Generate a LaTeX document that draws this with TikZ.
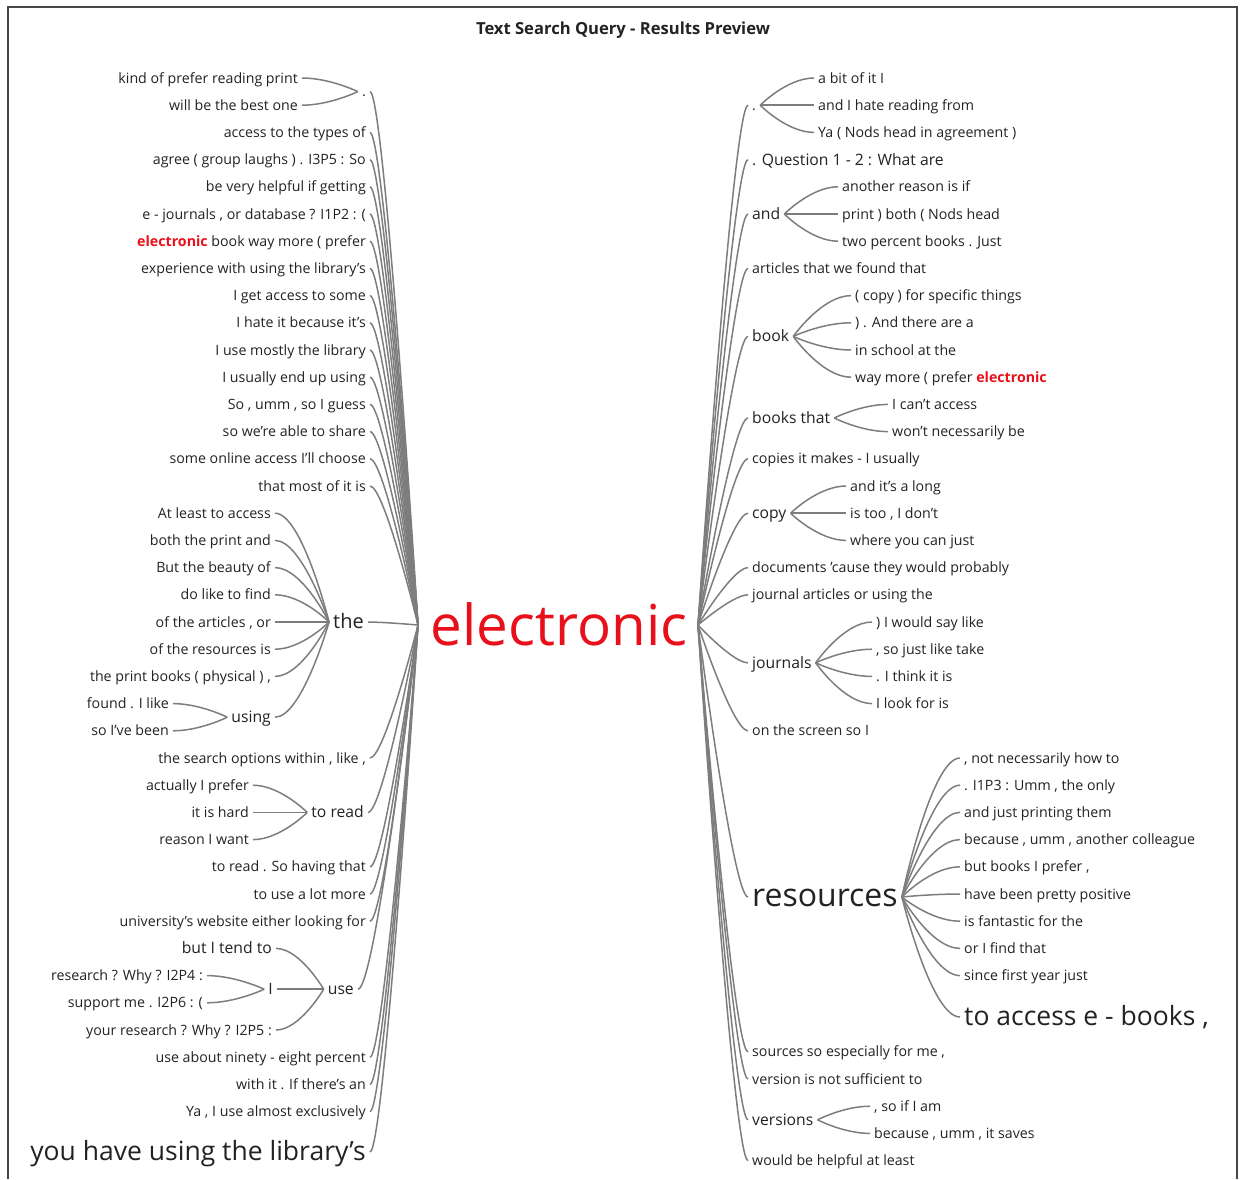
\documentclass[tikz,border=0pt]{standalone}
\usepackage{fontspec}
\setmainfont{Open Sans}
\usetikzlibrary{calc}
\definecolor{txt}{RGB}{34,34,34}
\definecolor{wirec}{RGB}{125,125,125}
\definecolor{hot}{RGB}{232,17,27}
\definecolor{framec}{RGB}{70,70,70}
% parent point first, child point second
\newcommand\wlink[2]{\draw[wire] let \p1=(#1), \p2=(#2) in (\p1) .. controls (\p1) and ({0.3*\x1+0.7*\x2},\y2) .. (\p2);}
\newcommand\flink[2]{\draw[wire] let \p1=(#1), \p2=(#2) in (\p1) .. controls (\p1) and ({0.5*\x1+0.5*\x2},\y2) .. (\p2);}
\newcommand\hotw{\textcolor{hot}{\bfseries electronic}}
\begin{document}
\begin{tikzpicture}[x=1pt,y=-1pt,
  wire/.style={draw=wirec,line width=1.5pt},
  wbase/.style={text=txt,inner xsep=4pt,inner ysep=0pt},
  fs/.style={wbase,font=\fontsize{14.2}{16}\selectfont,text height=13pt,text depth=2.8pt},
  fm/.style={wbase,font=\fontsize{15.7}{18}\selectfont,text height=14.1pt,text depth=3.1pt},
  fl/.style={wbase,font=\fontsize{20}{24}\selectfont,text height=17.3pt,text depth=4pt},
  fx/.style={wbase,font=\fontsize{26.5}{30}\selectfont,text height=22.1pt,text depth=5.3pt},
  fxx/.style={wbase,font=\fontsize{32}{36}\selectfont,text height=26.2pt,text depth=6.4pt},
  le/.style={anchor=east}, ri/.style={anchor=west}
]
\useasboundingbox (0,0) rectangle (1247,1179);
\draw[draw=framec,line width=1.8pt] (8,1179) -- (8,7) -- (1237,7) -- (1237,1179);
\node[text=txt,font=\bfseries\fontsize{16.6}{20}\selectfont] (title) at (623,30) {Text Search Query - Results Preview};

% root
\node[text=hot,inner sep=0pt,font=\fontsize{56.5}{60}\selectfont,text height=41.8pt,text depth=11.3pt] (elec) at (559,630) {electronic};
\coordinate (L) at (418,625);
\coordinate (R) at (698,625);

% ---------------- left side ----------------
\node[fs,le] (ldot) at (370,91.6) {.};
\node[fs,le] (l0) at (302,78) {kind of prefer reading print};
\node[fs,le] (l1) at (302,105.2) {will be the best one};
\node[fs,le] (l2) at (370,132.4) {access to the types of};
\node[fs,le] (l3) at (370,159.6) {agree ( group laughs ) . I3P5 : So};
\node[fs,le] (l4) at (370,186.8) {be very helpful if getting};
\node[fs,le] (l5) at (370,214) {e - journals , or database ? I1P2 : (};
\node[fs,le] (l6) at (370,241.2) {\hotw{} book way more ( prefer};
\node[fs,le] (l7) at (370,268.4) {experience with using the library's};
\node[fs,le] (l8) at (370,295.6) {I get access to some};
\node[fs,le] (l9) at (370,322.8) {I hate it because it's};
\node[fs,le] (l10) at (370,350) {I use mostly the library};
\node[fs,le] (l11) at (370,377.2) {I usually end up using};
\node[fs,le] (l12) at (370,404.4) {So , umm , so I guess};
\node[fs,le] (l13) at (370,431.6) {so we're able to share};
\node[fs,le] (l14) at (370,458.8) {some online access I'll choose};
\node[fs,le] (l15) at (370,486) {that most of it is};
\node[fl,le] (lthe) at (368,622) {the};
\node[fs,le] (l16) at (275,513.2) {At least to access};
\node[fs,le] (l17) at (275,540.4) {both the print and};
\node[fs,le] (l18) at (275,567.6) {But the beauty of};
\node[fs,le] (l19) at (275,594.8) {do like to find};
\node[fs,le] (l20) at (275,622) {of the articles , or};
\node[fs,le] (l21) at (275,649.2) {of the resources is};
\node[fs,le] (l22) at (275,676.4) {the print books ( physical ) ,};
\node[fm,le] (lusing) at (275,717.2) {using};
\node[fs,le] (l23) at (173,703.6) {found . I like};
\node[fs,le] (l24) at (173,730.8) {so I've been};
\node[fs,le] (l25) at (370,758) {the search options within , like ,};
\node[fm,le] (lread) at (368,812.4) {to read};
\node[fs,le] (l26) at (253,785.2) {actually I prefer};
\node[fs,le] (l27) at (253,812.4) {it is hard};
\node[fs,le] (l28) at (253,839.6) {reason I want};
\node[fs,le] (l29) at (370,866.8) {to read . So having that};
\node[fs,le] (l30) at (370,894) {to use a lot more};
\node[fs,le] (l31) at (370,921.2) {university's website either looking for};
\node[fm,le] (luse) at (358,989.2) {use};
\node[fm,le] (l32) at (276,948.4) {but I tend to};
\node[fm,le] (lI) at (277,989.2) {I};
\node[fs,le] (l33) at (207,975.6) {research ? Why ? I2P4 :};
\node[fs,le] (l34) at (207,1002.8) {support me . I2P6 : (};
\node[fs,le] (l35) at (276,1030) {your research ? Why ? I2P5 :};
\node[fs,le] (l36) at (370,1057.2) {use about ninety - eight percent};
\node[fs,le] (l37) at (370,1084.4) {with it . If there's an};
\node[fs,le] (l38) at (370,1111.6) {Ya , I use almost exclusively};
\node[fx,le] (lbig) at (370,1152) {you have using the library's};

\foreach \c in {ldot,l2,l3,l4,l5,l6,l7,l8,l9,l10,l11,l12,l13,l14,l15,lthe,l25,lread,l29,l30,l31,luse,l36,l37,l38,lbig} {\wlink{L}{\c.east}}
\foreach \c in {l0,l1} {\flink{ldot.west}{\c.east}}
\foreach \c in {l16,l17,l18,l19,l20,l21,l22,lusing} {\flink{lthe.west}{\c.east}}
\foreach \c in {l23,l24} {\flink{lusing.west}{\c.east}}
\foreach \c in {l26,l27,l28} {\flink{lread.west}{\c.east}}
\foreach \c in {l32,lI,l35} {\flink{luse.west}{\c.east}}
\foreach \c in {l33,l34} {\flink{lI.west}{\c.east}}

% ---------------- right side ----------------
\node[fs,ri] (rdot) at (748,105.2) {.};
\node[fs,ri] (r0) at (814,78) {a bit of it I};
\node[fs,ri] (r1) at (814,105.2) {and I hate reading from};
\node[fs,ri] (r2) at (814,132.4) {Ya ( Nods head in agreement )};
\node[fm,ri] (r3) at (748,159.6) {. Question 1 - 2 : What are};
\node[fm,ri] (rand) at (748,214) {and};
\node[fs,ri] (r4) at (838,186.8) {another reason is if};
\node[fs,ri] (r5) at (838,214) {print ) both ( Nods head};
\node[fs,ri] (r6) at (838,241.2) {two percent books . Just};
\node[fs,ri] (r7) at (748,268.4) {articles that we found that};
\node[fm,ri] (rbook) at (748,336.4) {book};
\node[fs,ri] (r8) at (851,295.6) {( copy ) for specific things};
\node[fs,ri] (r9) at (851,322.8) {) . And there are a};
\node[fs,ri] (r10) at (851,350) {in school at the};
\node[fs,ri] (r11) at (851,377.2) {way more ( prefer \hotw};
\node[fm,ri] (rbooks) at (748,418) {books that};
\node[fs,ri] (r12) at (888,404.4) {I can't access};
\node[fs,ri] (r13) at (888,431.6) {won't necessarily be};
\node[fs,ri] (r14) at (748,458.8) {copies it makes - I usually};
\node[fm,ri] (rcopy) at (748,513.2) {copy};
\node[fs,ri] (r15) at (846,486) {and it's a long};
\node[fs,ri] (r16) at (846,513.2) {is too , I don't};
\node[fs,ri] (r17) at (846,540.4) {where you can just};
\node[fs,ri] (r18) at (748,567.6) {documents 'cause they would probably};
\node[fs,ri] (r19) at (748,594.8) {journal articles or using the};
\node[fm,ri] (rjour) at (748,662.8) {journals};
\node[fs,ri] (r20) at (872,622) {) I would say like};
\node[fs,ri] (r21) at (872,649.2) {, so just like take};
\node[fs,ri] (r22) at (872,676.4) {. I think it is};
\node[fs,ri] (r23) at (872,703.6) {I look for is};
\node[fs,ri] (r24) at (748,730.8) {on the screen so I};
\node[fxx,ri] (rres) at (748,897) {resources};
\node[fs,ri] (r25) at (960,758) {, not necessarily how to};
\node[fs,ri] (r26) at (960,785.2) {. I1P3 : Umm , the only};
\node[fs,ri] (r27) at (960,812.4) {and just printing them};
\node[fs,ri] (r28) at (960,839.6) {because , umm , another colleague};
\node[fs,ri] (r29) at (960,866.8) {but books I prefer ,};
\node[fs,ri] (r30) at (960,894) {have been pretty positive};
\node[fs,ri] (r31) at (960,921.2) {is fantastic for the};
\node[fs,ri] (r32) at (960,948.4) {or I find that};
\node[fs,ri] (r33) at (960,975.6) {since first year just};
\node[fx,ri] (r34) at (960,1017) {to access e - books ,};
\node[fs,ri] (r35) at (748,1051.8) {sources so especially for me ,};
\node[fs,ri] (r36) at (748,1079) {version is not sufficient to};
\node[fm,ri] (rvers) at (748,1119.8) {versions};
\node[fs,ri] (r37) at (870,1106.2) {, so if I am};
\node[fs,ri] (r38) at (870,1133.4) {because , umm , it saves};
\node[fs,ri] (r39) at (748,1160.6) {would be helpful at least};

\foreach \c in {rdot,r3,rand,r7,rbook,rbooks,r14,rcopy,r18,r19,rjour,r24,rres,r35,r36,rvers,r39} {\wlink{R}{\c.west}}
\foreach \c in {r0,r1,r2} {\flink{rdot.east}{\c.west}}
\foreach \c in {r4,r5,r6} {\flink{rand.east}{\c.west}}
\foreach \c in {r8,r9,r10,r11} {\flink{rbook.east}{\c.west}}
\foreach \c in {r12,r13} {\flink{rbooks.east}{\c.west}}
\foreach \c in {r15,r16,r17} {\flink{rcopy.east}{\c.west}}
\foreach \c in {r20,r21,r22,r23} {\flink{rjour.east}{\c.west}}
\foreach \c in {r25,r26,r27,r28,r29,r30,r31,r32,r33,r34} {\flink{rres.east}{\c.west}}
\foreach \c in {r37,r38} {\flink{rvers.east}{\c.west}}
\end{tikzpicture}
\end{document}
